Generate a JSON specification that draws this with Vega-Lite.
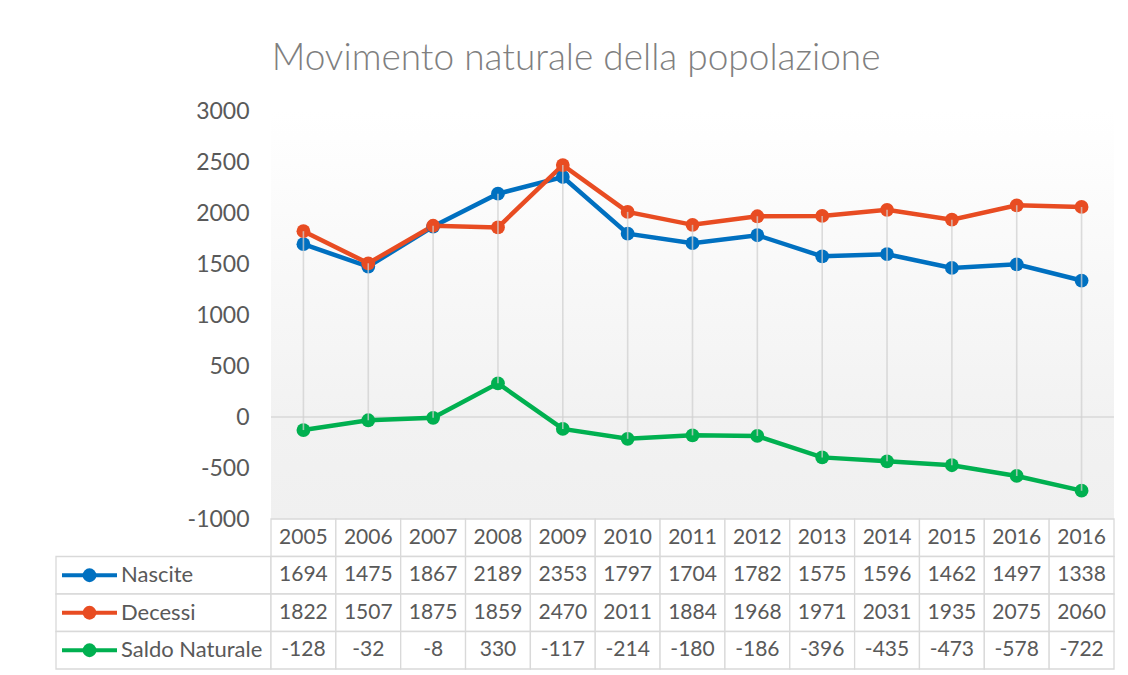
{
  "$schema": "https://vega.github.io/schema/vega-lite/v6.json",
  "background": "white",
  "autosize": {"type": "pad"},
  "padding": {"left": 55, "top": 40, "right": 5, "bottom": 0},
  "title": {
    "text": "Movimento naturale della popolazione",
    "font": "Lato",
    "fontWeight": 300,
    "fontSize": 37,
    "color": "#7f7f7f",
    "anchor": "middle",
    "offset": 22,
    "dx": -9
  },
  "datasets": {
    "d": [
      {"idx": 1, "year": "2005", "Nascite": 1694, "Decessi": 1822, "Saldo Naturale": -128},
      {"idx": 2, "year": "2006", "Nascite": 1475, "Decessi": 1507, "Saldo Naturale": -32},
      {"idx": 3, "year": "2007", "Nascite": 1867, "Decessi": 1875, "Saldo Naturale": -8},
      {"idx": 4, "year": "2008", "Nascite": 2189, "Decessi": 1859, "Saldo Naturale": 330},
      {"idx": 5, "year": "2009", "Nascite": 2353, "Decessi": 2470, "Saldo Naturale": -117},
      {"idx": 6, "year": "2010", "Nascite": 1797, "Decessi": 2011, "Saldo Naturale": -214},
      {"idx": 7, "year": "2011", "Nascite": 1704, "Decessi": 1884, "Saldo Naturale": -180},
      {"idx": 8, "year": "2012", "Nascite": 1782, "Decessi": 1968, "Saldo Naturale": -186},
      {"idx": 9, "year": "2013", "Nascite": 1575, "Decessi": 1971, "Saldo Naturale": -396},
      {"idx": 10, "year": "2014", "Nascite": 1596, "Decessi": 2031, "Saldo Naturale": -435},
      {"idx": 11, "year": "2015", "Nascite": 1462, "Decessi": 1935, "Saldo Naturale": -473},
      {"idx": 12, "year": "2016", "Nascite": 1497, "Decessi": 2075, "Saldo Naturale": -578},
      {"idx": 13, "year": "2016", "Nascite": 1338, "Decessi": 2060, "Saldo Naturale": -722}
    ],
    "serie": [
      {"serie": "Nascite"},
      {"serie": "Decessi"},
      {"serie": "Saldo Naturale"}
    ]
  },
  "columns": 2,
  "bounds": "flush",
  "spacing": 0,
  "concat": [
    {
      "width": 215,
      "height": 408,
      "data": {"values": []},
      "mark": {"type": "point", "opacity": 0}
    },
    {
      "width": 843,
      "height": 408,
      "view": {
        "stroke": null,
        "fill": {
          "gradient": "linear",
          "x1": 0, "y1": 0, "x2": 0, "y2": 1,
          "stops": [
            {"offset": 0, "color": "#ffffff"},
            {"offset": 0.127, "color": "#fdfdfd"},
            {"offset": 0.75, "color": "#f2f2f2"},
            {"offset": 1, "color": "#f0f0f0"}
          ]
        }
      },
      "data": {"name": "d"},
      "transform": [{"fold": ["Nascite", "Decessi", "Saldo Naturale"], "as": ["serie", "valore"]}],
      "layer": [
        {
          "data": {"values": [{}]},
          "mark": {"type": "rule", "color": "#d9d9d9", "strokeWidth": 1.5},
          "encoding": {"y": {"datum": 0, "type": "quantitative"}}
        },
        {
          "mark": {"type": "line", "strokeWidth": 4.5},
          "encoding": {
            "x": {"field": "idx", "type": "ordinal", "axis": null, "scale": {"paddingInner": 0, "paddingOuter": 0}},
            "y": {
              "field": "valore", "type": "quantitative",
              "scale": {"domain": [-1000, 3000], "nice": false, "zero": false},
              "axis": {
                "values": [-1000, -500, 0, 500, 1000, 1500, 2000, 2500, 3000],
                "labelExpr": "datum.value + ''",
                "grid": false, "domain": false, "ticks": false,
                "labelFont": "Lato", "labelFontSize": 23, "labelColor": "#595959",
                "labelPadding": 22, "title": null
              }
            },
            "color": {
              "field": "serie", "type": "nominal", "legend": null,
              "scale": {"domain": ["Nascite", "Decessi", "Saldo Naturale"], "range": ["#0070C0", "#E84C22", "#00B050"]}
            }
          }
        },
        {
          "mark": {"type": "point", "filled": true, "opacity": 1, "shape": "circle"},
          "encoding": {
            "x": {"field": "idx", "type": "ordinal"},
            "y": {"field": "valore", "type": "quantitative"},
            "color": {"field": "serie", "type": "nominal", "legend": null},
            "size": {
              "field": "serie", "type": "nominal", "legend": null,
              "scale": {"domain": ["Nascite", "Decessi", "Saldo Naturale"], "range": [190, 190, 115]}
            }
          }
        },
        {
          "transform": [{"aggregate": [{"op": "max", "field": "valore", "as": "hi"}, {"op": "min", "field": "valore", "as": "lo"}], "groupby": ["idx"]}],
          "mark": {"type": "rule", "color": "#d0d0d0", "strokeWidth": 1.6, "opacity": 0.75},
          "encoding": {
            "x": {"field": "idx", "type": "ordinal"},
            "y": {"field": "hi", "type": "quantitative"},
            "y2": {"field": "lo"}
          }
        }
      ]
    },
    {
      "width": 215,
      "height": 150,
      "view": {"stroke": null},
      "data": {"name": "serie"},
      "encoding": {
        "y": {
          "field": "serie", "type": "nominal", "axis": null,
          "scale": {"domain": ["year", "Nascite", "Decessi", "Saldo Naturale"], "paddingInner": 0, "paddingOuter": 0}
        }
      },
      "layer": [
        {
          "mark": {"type": "rect", "fill": "white", "stroke": "#d9d9d9", "strokeWidth": 1.3},
          "encoding": {"x": {"value": 0}, "x2": {"value": "width"}}
        },
        {
          "mark": {"type": "rule", "strokeWidth": 4},
          "encoding": {
            "x": {"datum": 6, "type": "quantitative", "axis": null, "scale": {"domain": [0, 215], "nice": false, "zero": false}},
            "x2": {"datum": 61},
            "color": {"field": "serie", "type": "nominal", "legend": null,
              "scale": {"domain": ["Nascite", "Decessi", "Saldo Naturale"], "range": ["#0070C0", "#E84C22", "#00B050"]}}
          }
        },
        {
          "mark": {"type": "point", "filled": true, "opacity": 1, "shape": "circle"},
          "encoding": {
            "x": {"datum": 33.5, "type": "quantitative"},
            "color": {"field": "serie", "type": "nominal", "legend": null},
            "size": {"field": "serie", "type": "nominal", "legend": null,
              "scale": {"domain": ["Nascite", "Decessi", "Saldo Naturale"], "range": [200, 200, 130]}}
          }
        },
        {
          "mark": {"type": "text", "align": "left", "baseline": "middle", "font": "Lato", "fontSize": 22, "color": "#595959"},
          "encoding": {
            "x": {"datum": 65, "type": "quantitative"},
            "text": {"field": "serie", "type": "nominal"}
          }
        }
      ]
    },
    {
      "width": 843,
      "height": 150,
      "view": {"stroke": null},
      "data": {"name": "d"},
      "transform": [{"fold": ["year", "Nascite", "Decessi", "Saldo Naturale"], "as": ["riga", "val"]}],
      "encoding": {
        "x": {"field": "idx", "type": "ordinal", "axis": null, "scale": {"paddingInner": 0, "paddingOuter": 0}},
        "y": {
          "field": "riga", "type": "nominal", "axis": null,
          "scale": {"domain": ["year", "Nascite", "Decessi", "Saldo Naturale"], "paddingInner": 0, "paddingOuter": 0}
        }
      },
      "layer": [
        {"mark": {"type": "rect", "fill": "white", "stroke": "#d9d9d9", "strokeWidth": 1.3}},
        {
          "mark": {"type": "text", "align": "center", "baseline": "middle", "font": "Lato", "fontSize": 21, "color": "#595959"},
          "encoding": {"text": {"field": "val", "type": "nominal"}}
        }
      ]
    }
  ],
  "config": {
    "view": {"stroke": null},
    "font": "Lato"
  }
}
